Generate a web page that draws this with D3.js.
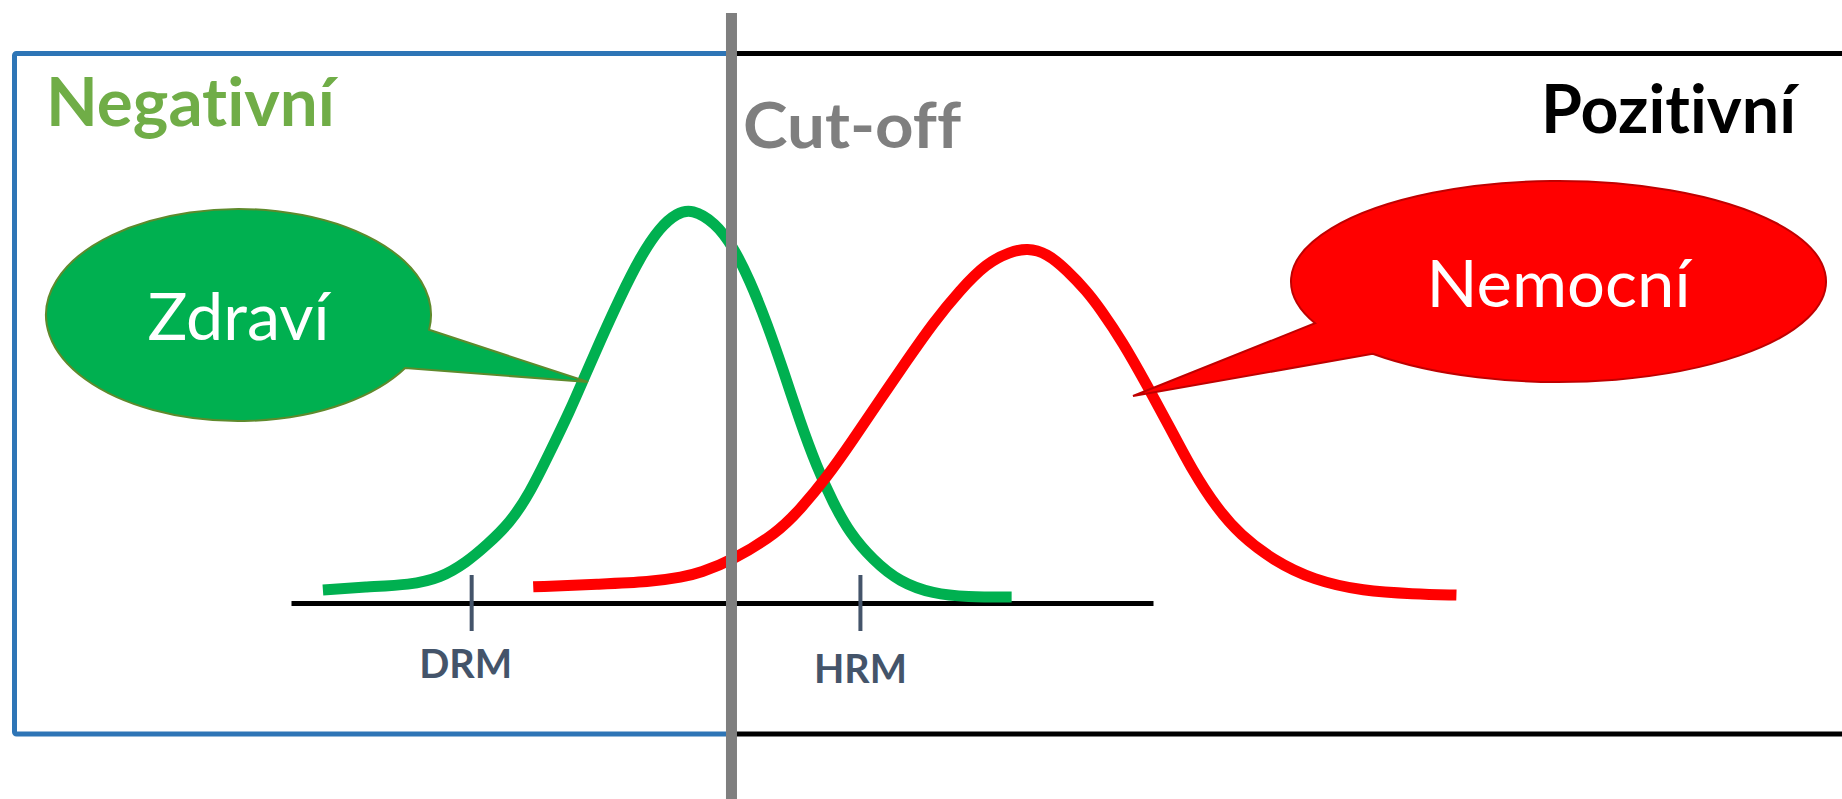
<!DOCTYPE html>
<html lang="cs">

<head>
  <meta charset="UTF-8" />
  <title>Cut-off</title>
  <script src="https://d3js.org/d3.v7.min.js"></script>
  <style>
    body {
      margin: 0;
      background-color: white;
      overflow: hidden;
    }

    svg {
      display: block;
      font-family: Lato, 'Open Sans', sans-serif;
      font-variant-ligatures: none;
    }
  </style>
</head>

<body>
  <script>
    // curve values (x = measured value, y = frequency, 0..100)
    const greenX = [3.7, 8.8, 13.8, 17.3, 20.4, 22.7, 25.4, 27.7, 30.0, 32.4, 33.9, 35.8, 38.2, 40.5, 42.8, 44.8, 46.5,
      49.2, 51.3, 53.2, 55.2, 57.1, 59.0, 61.0, 62.9, 64.8, 67.5, 70.6, 74.5, 78.4, 83.6];
    const greenY = [3.3, 4.1, 4.6, 6.3, 10.4, 14.7, 20.3, 27.9, 38.1, 49.0, 56.6, 66.2, 77.7, 87.8, 95.4, 99.0, 100,
      96.6, 90.4, 82.0, 71.1, 59.1, 46.4, 34.5, 25.4, 17.8, 10.9, 5.3, 2.3, 1.5, 1.5];

    const redX = [28.1, 35.8, 41.6, 45.5, 47.4, 51.3, 56.4, 59.0, 62.2, 65.2, 68.3, 71.5, 74.5, 77.6, 80.7, 83.4, 85.4,
      87.7, 90.0, 92.3, 93.9, 96.5, 99.3, 102.0, 104.6, 107.4, 110.1, 113.9, 118.6, 124.4, 130.2, 135.2];
    const redY = [4.1, 4.8, 5.3, 6.6, 7.6, 10.9, 17.8, 23.6, 32.0, 41.4, 51.5, 61.7, 71.1, 79.4, 86.3, 89.1, 90.1,
      88.8, 84.5, 79.2, 74.6, 66.2, 55.3, 44.4, 33.5, 24.1, 17.3, 10.9, 5.8, 3.0, 2.3, 2.0];

    const tickValues = [20.9, 66.0];
    const tickLabels = ['DRM', 'HRM'];
    const cutoff = 51.1;

    const w = 1842;
    const h = 799;

    const xScale = d3.scaleLinear().domain([0, 100]).range([291, 1153]);
    const yScale = d3.scaleLinear().domain([0, 100]).range([603, 209]);

    const svg = d3.select('body')
      .append('svg')
      .attr('width', w)
      .attr('height', h);

    // frame: blue box on the negative side, black lines on the positive side
    const xc = xScale(cutoff);
    svg.append('rect')
      .attr('x', 14.5)
      .attr('y', 53.5)
      .attr('width', xc - 14.5)
      .attr('height', 734 - 53.5)
      .attr('rx', 2)
      .attr('fill', 'none')
      .attr('stroke', '#2e75b6')
      .attr('stroke-width', 5);

    [53.5, 734].forEach(y => {
      svg.append('line')
        .attr('x1', xc)
        .attr('x2', w)
        .attr('y1', y)
        .attr('y2', y)
        .attr('stroke', 'black')
        .attr('stroke-width', 5);
    });

    // axis with DRM / HRM marks
    const xAxis = d3.axisBottom(xScale)
      .tickValues(tickValues)
      .tickFormat((d, i) => tickLabels[i])
      .tickSizeOuter(0)
      .tickSizeInner(28)
      .tickPadding(47);

    const gAxis = svg.append('g')
      .attr('transform', `translate(0,${yScale(0)})`)
      .call(xAxis);

    gAxis.select('.domain')
      .attr('stroke', 'black')
      .attr('stroke-width', 5);

    gAxis.selectAll('.tick line')
      .attr('y1', -28)
      .attr('stroke', '#44546a')
      .attr('stroke-width', 4);

    gAxis.selectAll('.tick text')
      .attr('fill', '#44546a')
      .attr('font-family', 'Lato')
      .attr('font-weight', 'bold')
      .attr('font-size', 41)
      .attr('textLength', 93)
      .attr('lengthAdjust', 'spacingAndGlyphs')
      .attr('dx', (d, i) => i === 0 ? -6 : 0)
      .attr('dy', (d, i) => i === 0 ? 0 : 5);

    // curves
    const line = d3.line()
      .x(d => xScale(d[0]))
      .y(d => yScale(d[1]))
      .curve(d3.curveBasis);

    svg.append('path')
      .datum(greenX.map((x, i) => [x, greenY[i]]))
      .attr('d', line)
      .attr('fill', 'none')
      .attr('stroke', '#00b050')
      .attr('stroke-width', 11);

    svg.append('path')
      .datum(redX.map((x, i) => [x, redY[i]]))
      .attr('d', line)
      .attr('fill', 'none')
      .attr('stroke', '#ff0000')
      .attr('stroke-width', 11);

    // speech bubbles
    const bubbles = [
      { text: 'Zdraví', cx: 238.5, cy: 315, rx: 192.5, ry: 106, a1: 8, a2: 30, sweep: 0, tip: [588, 382],
        fill: '#00b050', stroke: '#5e8a2c', textW: 182, base: 340 },
      { text: 'Nemocní', cx: 1558.5, cy: 281.5, rx: 267.5, ry: 100.5, a1: 155.5, a2: 134, sweep: 1, tip: [1133, 396],
        fill: '#ff0000', stroke: '#c00000', textW: 264, base: 307 }
    ];

    const rad = a => a * Math.PI / 180;
    bubbles.forEach(b => {
      const p1 = [b.cx + b.rx * Math.cos(rad(b.a1)), b.cy + b.ry * Math.sin(rad(b.a1))];
      const p2 = [b.cx + b.rx * Math.cos(rad(b.a2)), b.cy + b.ry * Math.sin(rad(b.a2))];
      svg.append('path')
        .attr('d', `M${p1[0]},${p1[1]} A${b.rx},${b.ry} 0 1 ${b.sweep} ${p2[0]},${p2[1]} L${b.tip[0]},${b.tip[1]} Z`)
        .attr('fill', b.fill)
        .attr('stroke', b.stroke)
        .attr('stroke-width', 2);
      svg.append('text')
        .attr('x', b.cx)
        .attr('y', b.base)
        .attr('text-anchor', 'middle')
        .attr('fill', 'white')
        .attr('font-size', 66)
        .attr('textLength', b.textW)
        .attr('lengthAdjust', 'spacingAndGlyphs')
        .text(b.text);
    });

    // cut-off line
    svg.append('line')
      .attr('x1', xc)
      .attr('x2', xc)
      .attr('y1', 13)
      .attr('y2', h)
      .attr('stroke', '#7f7f7f')
      .attr('stroke-width', 11);

    // headings
    svg.append('text')
      .attr('x', 46)
      .attr('y', 126)
      .attr('fill', '#70ad47')
      .attr('font-weight', 'bold')
      .attr('font-size', 66)
      .attr('textLength', 289)
      .attr('lengthAdjust', 'spacingAndGlyphs')
      .text('Negativní');

    svg.append('text')
      .attr('x', 743)
      .attr('y', 148)
      .attr('fill', '#7f7f7f')
      .attr('font-weight', 'bold')
      .attr('font-size', 63)
      .attr('textLength', 218)
      .attr('lengthAdjust', 'spacingAndGlyphs')
      .text('Cut-off');

    svg.append('text')
      .attr('x', 1796)
      .attr('y', 133)
      .attr('text-anchor', 'end')
      .attr('fill', 'black')
      .attr('font-weight', 'bold')
      .attr('font-size', 66)
      .attr('textLength', 255)
      .attr('lengthAdjust', 'spacingAndGlyphs')
      .text('Pozitivní');
  </script>
</body>

</html>
